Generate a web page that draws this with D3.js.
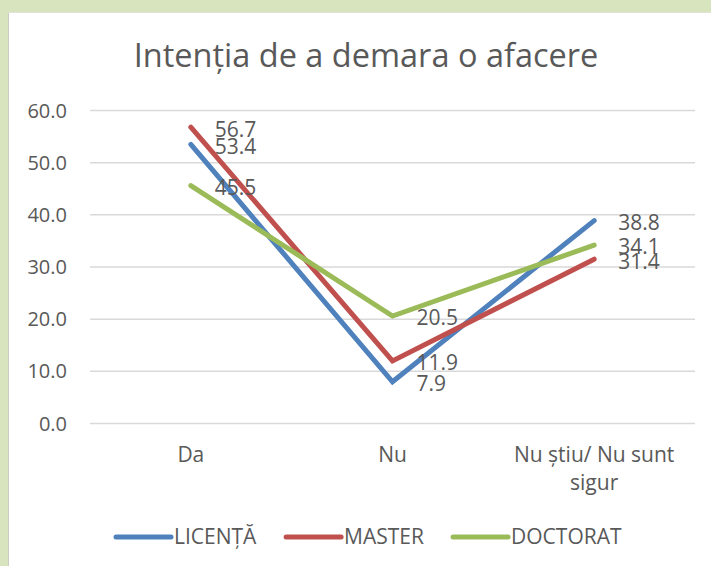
<!DOCTYPE html>
<html>
<head>
<meta charset="utf-8">
<script src="https://cdn.jsdelivr.net/npm/d3@7"></script>
<style>
	body{margin:0;padding:0;background:#fff;}
	svg text{font-family:"Open Sans", sans-serif; fill:#595959;}
</style>
</head>
<body>
<div id="canvas"></div>
<script>
// data
const categories = ['Da', 'Nu', 'Nu știu/ Nu sunt sigur'];
const catLines = [['Da'], ['Nu'], ['Nu știu/ Nu sunt', 'sigur']];
const licenta = [53.4, 7.9, 38.8];
const master = [56.7, 11.9, 31.4];
const doctorat = [45.5, 20.5, 34.1];
const seriesNames = ['LICENȚĂ', 'MASTER', 'DOCTORAT'];
const seriesColors = ['#4f81bd', '#c0504d', '#9bbb59'];
const yTicks = [0, 10, 20, 30, 40, 50, 60];
const title = 'Intenția de a demara o afacere';

let W = 711, H = 566;
let M = {t:110, r:16, b:143, l:90}; // plot area inside the svg

const series = [licenta, master, doctorat].map((v, i) => ({name: seriesNames[i], color: seriesColors[i], values: v}));

const svg = d3.select('#canvas').append('svg')
	.attr('width', W)
	.attr('height', H);

// green frame + white chart area
svg.append('rect').attr('width', W).attr('height', H).style('fill', '#d7e4bd');
svg.append('rect').attr('x', 8).attr('y', 12).attr('width', W - 8).attr('height', H - 12).style('fill', '#fff');
svg.append('line').attr('x1', 8.5).attr('x2', 8.5).attr('y1', 12).attr('y2', H).style('stroke', '#c9cfc0').style('stroke-width', 1);
svg.append('line').attr('x1', 8).attr('x2', W).attr('y1', 12.5).attr('y2', 12.5).style('stroke', '#dfe3da').style('stroke-width', 1);

const x = d3.scaleBand().domain(categories).range([M.l, W - M.r]).paddingInner(0).paddingOuter(0);
const y = d3.scaleLinear().domain([0, 60]).range([H - M.b, M.t]);
const cx = d => x(d) + x.bandwidth() / 2;

svg.append('text')
	.attr('x', 366).attr('y', 67)
	.attr('text-anchor', 'middle')
	.style('font-size', '32.5px')
	.text(title);

// y axis with gridlines
const yAxis = svg.append('g').attr('class', 'y axis')
	.attr('transform', 'translate(' + M.l + ',0)')
	.call(d3.axisLeft(y).tickValues(yTicks).tickFormat(d3.format('.1f'))
		.tickSize(-(W - M.l - M.r)).tickPadding(23));
yAxis.select('.domain').remove();
yAxis.selectAll('line').style('stroke', '#d9d9d9').style('stroke-width', 1.5);
yAxis.selectAll('text').style('font-size', '20px').style('fill', '#595959').attr('dy', '0.35em');

// category labels
const cat = svg.append('g').attr('class', 'x labels');
cat.selectAll('text').data(categories).enter().append('text')
	.attr('x', d => cx(d))
	.attr('y', 462)
	.attr('text-anchor', 'middle')
	.style('font-size', '21px')
	.each(function(d, i){
		d3.select(this).selectAll('tspan').data(catLines[i]).enter().append('tspan')
			.attr('x', cx(d))
			.attr('dy', (t, j) => j ? 28 : 0)
			.text(t => t);
	});

// lines
const line = d3.line().x((d, i) => cx(categories[i])).y(d => y(d));
svg.append('g').attr('class', 'lines').selectAll('path').data(series).enter().append('path')
	.attr('d', d => line(d.values))
	.style('fill', 'none')
	.style('stroke', d => d.color)
	.style('stroke-width', 5)
	.style('stroke-linecap', 'round')
	.style('stroke-linejoin', 'miter');

// data labels
const lab = svg.append('g').attr('class', 'data labels');
series.forEach(s => {
	lab.selectAll(null).data(s.values).enter().append('text')
		.attr('x', (d, i) => cx(categories[i]) + 24)
		.attr('y', d => y(d) + 2)
		.attr('dy', '0.35em')
		.style('font-size', '21px')
		.text(d => d3.format('.1f')(d));
});

// legend
const leg = svg.append('g').attr('class', 'legend');
const items = leg.selectAll('g').data(series).enter().append('g');
items.append('line')
	.attr('x1', 0).attr('x2', 55).attr('y1', 0).attr('y2', 0)
	.style('stroke', d => d.color).style('stroke-width', 5).style('stroke-linecap', 'round');
items.append('text')
	.attr('x', 58).attr('dy', '0.35em')
	.style('font-size', '21px')
	.text(d => d.name);
let off = 0;
items.each(function(){
	const w = this.getBBox().width;
	d3.select(this).attr('transform', 'translate(' + off + ',0)');
	off += w + 29;
});
off -= 29;
leg.attr('transform', 'translate(' + (369 - off / 2) + ',537)');
</script>
</body>
</html>
